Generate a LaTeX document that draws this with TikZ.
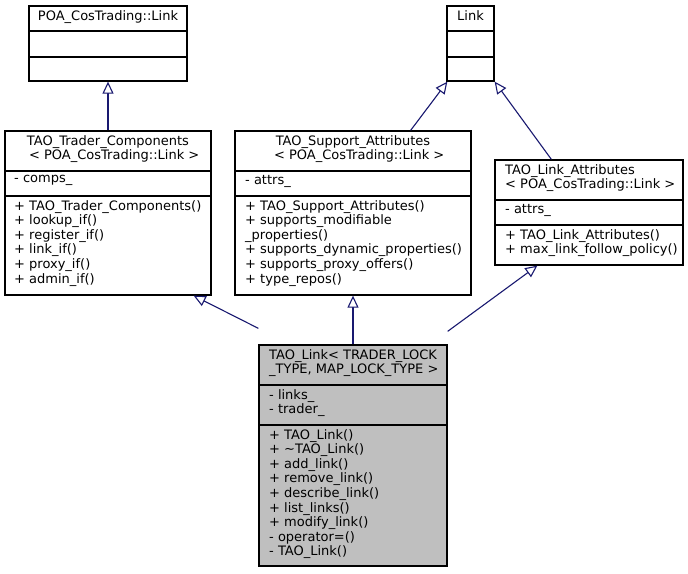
\documentclass[tikz,border=0pt]{standalone}
\usepackage{fontspec}
\setmainfont{DejaVu Sans}
\usetikzlibrary{arrows.meta,calc}
\definecolor{edgeblue}{HTML}{191970}
\definecolor{boxgray}{HTML}{BFBFBF}
\newcommand\umlbox[7]{%
  \node[box,fill=#7,minimum width={#3-#2},minimum height={#6-#4}] (#1) at ({(#2+#3)/2},{(#4+#6)/2}) {};
  \draw[thin line] (#2,#5) -- (#3,#5);
  \draw[thin line] (#2,{#5+0}) ++(0,0);
}
\newcommand\sepline[3]{\draw[thin line] (#1,#3) -- (#2,#3);}
\tikzset{
  box/.style={draw=black,line width=1.3pt,inner sep=0pt,rectangle},
  thin line/.style={draw=black,line width=1.1pt},
  txt/.style={anchor=north west,inner sep=0pt,align=left,font=\fontsize{13}{14.6}\selectfont},
  ctxt/.style={anchor=north,inner sep=0pt,align=center,font=\fontsize{13}{14.6}\selectfont},
  inh/.style={draw=edgeblue,line width=1.1pt,-{Triangle[open,length=12pt,width=11pt,fill=white]}}
}
\begin{document}
\begin{tikzpicture}[x=1pt,y=-1pt]
\useasboundingbox[fill=white] (0,0) rectangle (688,573);
% A
\umlbox{A}{29}{187}{6}{31}{81}{white}
\sepline{29}{187}{57}
\node[ctxt] (At) at (108,10) {POA\_CosTrading::Link};
% D
\umlbox{D}{447}{494}{6}{31}{81}{white}
\sepline{447}{494}{57}
\node[ctxt] (Dt) at (470.5,10) {Link};
% B
\umlbox{B}{5}{211}{131}{171}{295}{white}
\sepline{5}{211}{196}
\node[ctxt] (Bt) at (108,135) {TAO\_Trader\_Components\\\ \ \ \textless{} POA\_CosTrading::Link \textgreater};
\node[txt] (Ba) at (14,175) {- comps\_};
\node[txt] (Bm) at (14,200) {+ TAO\_Trader\_Components()\\+ lookup\_if()\\+ register\_if()\\+ link\_if()\\+ proxy\_if()\\+ admin\_if()};
% C
\umlbox{C}{235}{471}{131}{171}{295}{white}
\sepline{235}{471}{196}
\node[ctxt] (Ct) at (353,135) {TAO\_Support\_Attributes\\\ \ \ \textless{} POA\_CosTrading::Link \textgreater};
\node[txt] (Ca) at (245,175) {- attrs\_};
\node[txt] (Cm) at (245,200) {+ TAO\_Support\_Attributes()\\+ supports\_modifiable\\\_properties()\\+ supports\_dynamic\_properties()\\+ supports\_proxy\_offers()\\+ type\_repos()};
% E
\umlbox{E}{495}{683}{160}{200}{265}{white}
\sepline{495}{683}{225}
\node[txt] (Et) at (505,164) {TAO\_Link\_Attributes\\\textless{} POA\_CosTrading::Link \textgreater};
\node[txt] (Ea) at (505,204) {- attrs\_};
\node[txt] (Em) at (505,229) {+ TAO\_Link\_Attributes()\\+ max\_link\_follow\_policy()};
% F
\umlbox{F}{259}{447}{345}{385}{566}{boxgray}
\sepline{259}{447}{425}
\node[txt] (Ft) at (269,349) {TAO\_Link\textless{} TRADER\_LOCK\\\_TYPE, MAP\_LOCK\_TYPE \textgreater};
\node[txt] (Fa) at (269,389) {- links\_\\- trader\_};
\node[txt] (Fm) at (269,429) {+ TAO\_Link()\\+ \textasciitilde{}TAO\_Link()\\+ add\_link()\\+ remove\_link()\\+ describe\_link()\\+ list\_links()\\+ modify\_link()\\- operator=()\\- TAO\_Link()};
% edges
\draw[inh] (B.north) -- (A.south);
\draw[inh] ([xshift=-61]C.north east) -- ([xshift=1]D.south west);
\draw[inh] ([xshift=57]E.north west) -- (D.south east);
\draw[inh] ([yshift=16]F.north west) -- ([xshift=-18]B.south east);
\draw[inh] (F.north) -- (C.south);
\draw[inh] ([yshift=13]F.north east) -- ([xshift=43]E.south west);
\end{tikzpicture}
\end{document}
